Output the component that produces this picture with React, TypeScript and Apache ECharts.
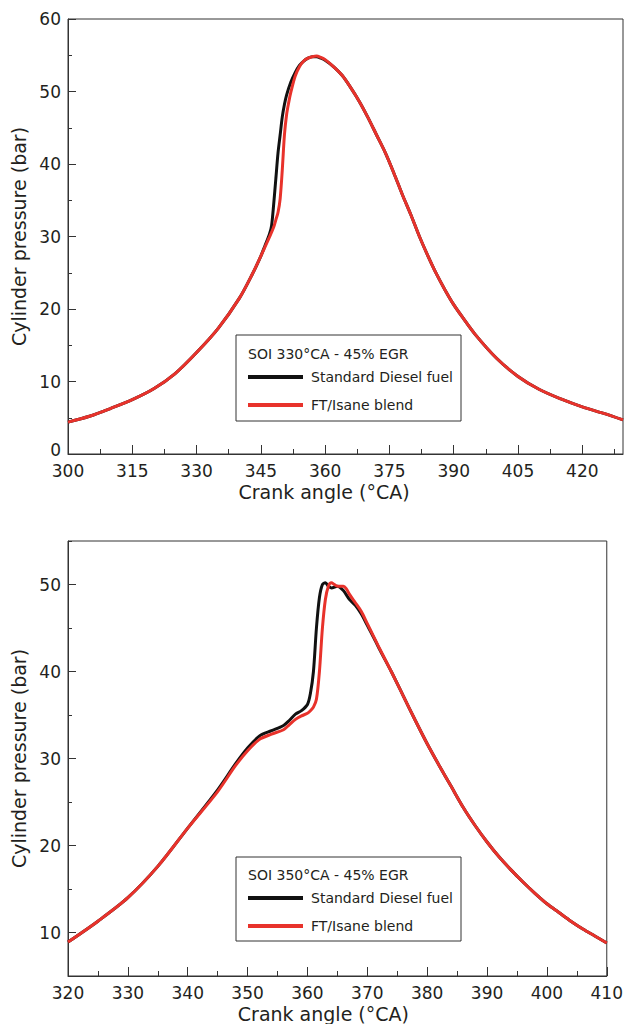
import React, { useEffect, useRef } from "react";
import * as echarts from "echarts";

// ---------- Top chart (SOI 330°CA) ----------
const topDieselAngle = [300, 305, 310, 315, 320, 325, 330, 335, 340, 343, 345, 346, 347, 347.5, 348, 348.5, 349, 349.5, 350, 350.5, 351, 352, 353, 354, 355, 356, 357, 358, 359, 360, 362, 364, 366, 368, 370, 372, 374, 376, 378, 380, 382, 384, 386, 388, 390, 392, 395, 400, 405, 410, 415, 420, 425, 429.5];
const topDieselP = [4.4, 5.2, 6.3, 7.5, 9.0, 11.1, 14.0, 17.3, 21.5, 24.8, 27.3, 28.8, 30.3, 31.5, 34.5, 38, 41.5, 44, 46.5, 48.2, 49.5, 51.3, 52.6, 53.6, 54.2, 54.6, 54.8, 54.8, 54.6, 54.3, 53.4, 52.2, 50.5, 48.6, 46.4, 44, 41.6, 38.8, 35.8, 33, 30, 27.3, 24.8, 22.6, 20.6, 18.9, 16.5, 13.2, 10.7, 8.9, 7.6, 6.5, 5.6, 4.7];

const topBlendAngle = [300, 305, 310, 315, 320, 325, 330, 335, 340, 343, 345, 346, 347, 348, 348.5, 349, 349.5, 350, 350.5, 351, 351.5, 352, 353, 354, 355, 356, 357, 358, 359, 360, 362, 364, 366, 368, 370, 372, 374, 376, 378, 380, 382, 384, 386, 388, 390, 392, 395, 400, 405, 410, 415, 420, 425, 429.5];
const topBlendP = [4.4, 5.2, 6.3, 7.5, 9.0, 11.1, 14.0, 17.3, 21.5, 24.8, 27.3, 28.6, 29.9, 31.3, 32.3, 33.3, 35.2, 39.2, 44, 46.8, 48.5, 49.9, 52.1, 53.4, 54.2, 54.6, 54.8, 54.9, 54.7, 54.4, 53.4, 52.2, 50.5, 48.6, 46.4, 44, 41.6, 38.8, 35.8, 33, 30, 27.3, 24.8, 22.6, 20.6, 18.9, 16.5, 13.2, 10.7, 8.9, 7.6, 6.5, 5.6, 4.7];

const topXMajor = [300, 315, 330, 345, 360, 375, 390, 405, 420];
const topXMinor = [307.5, 322.5, 337.5, 352.5, 367.5, 382.5, 397.5, 412.5, 427.5];
const topYMajor = [0, 10, 20, 30, 40, 50, 60];
const topYMinor = [5, 15, 25, 35, 45, 55];

// ---------- Bottom chart (SOI 350°CA) ----------
const botDieselAngle = [320, 325, 330, 335, 340, 345, 348, 350, 352, 354, 356, 357, 358, 359, 360, 360.5, 361, 361.5, 362, 362.5, 363, 363.5, 364, 365, 366, 367, 368, 369, 370, 371, 372, 374, 376, 378, 380, 382, 384, 386, 388, 390, 392, 394, 396, 398, 400, 402, 404, 406, 408, 410];
const botDieselP = [8.9, 11.3, 14.0, 17.6, 22.0, 26.4, 29.4, 31.2, 32.6, 33.2, 33.8, 34.4, 35.1, 35.5, 36.2, 37.5, 40, 45, 48.5, 50, 50.2, 49.8, 49.6, 49.8, 49.3, 48.3, 47.6, 46.6, 45.3, 44, 42.6, 40, 37.2, 34.4, 31.7, 29.2, 26.8, 24.4, 22.3, 20.4, 18.7, 17.2, 15.8, 14.5, 13.3, 12.3, 11.3, 10.4, 9.6, 8.8];

const botBlendAngle = [320, 325, 330, 335, 340, 345, 348, 350, 352, 354, 356, 357, 358, 359, 360, 360.5, 361, 361.5, 362, 362.5, 363, 363.5, 364, 364.5, 365, 366, 366.5, 367, 368, 369, 370, 371, 372, 374, 376, 378, 380, 382, 384, 386, 388, 390, 392, 394, 396, 398, 400, 402, 404, 406, 408, 410];
const botBlendP = [8.9, 11.3, 14.0, 17.6, 22.0, 26.2, 29.2, 30.9, 32.2, 32.8, 33.3, 33.9, 34.5, 34.9, 35.2, 35.5, 35.9, 36.8, 40, 45, 48.3, 49.8, 50.2, 50.0, 49.8, 49.8, 49.5, 48.9, 47.9, 46.9, 45.5, 44.1, 42.7, 40, 37.2, 34.4, 31.7, 29.2, 26.8, 24.4, 22.3, 20.4, 18.7, 17.2, 15.8, 14.5, 13.3, 12.3, 11.3, 10.4, 9.6, 8.8];

const botXMajor = [320, 330, 340, 350, 360, 370, 380, 390, 400, 410];
const botXMinor = [325, 335, 345, 355, 365, 375, 385, 395, 405];
const botYMajor = [10, 20, 30, 40, 50];
const botYMinor = [5, 15, 25, 35, 45, 55];

const seriesNames = ["Standard Diesel fuel", "FT/Isane blend"];
const legendTitles = ["SOI 330°CA - 45% EGR", "SOI 350°CA - 45% EGR"];

const FONT = "DejaVu Sans";
const TXT = "#231f20";
const AX = "#333333";
const BLACK = "#111111";
const RED = "#e8322b";

const zip = (a: number[], b: number[]) => a.map((v, i) => [v, b[i]]);

function mainX(grid: number, min: number, max: number, major: number[], padRight: number) {
  return {
    type: "value", gridIndex: grid, min, max, position: "bottom",
    axisLine: { show: true, lineStyle: { color: AX, width: 1 } },
    axisTick: { show: true, inside: true, length: 9, customValues: major, lineStyle: { color: AX } },
    axisLabel: { show: true, customValues: major, fontSize: 17, lineHeight: 17, color: TXT, fontFamily: FONT, margin: 8 },
    splitLine: { show: false },
    name: "Crank angle (°CA)", nameLocation: "middle", nameGap: 28,
    nameTextStyle: { fontSize: 19, color: TXT, fontFamily: FONT, padding: [0, padRight, 0, 0] },
  };
}
function minorX(grid: number, min: number, max: number, minor: number[]) {
  return {
    type: "value", gridIndex: grid, min, max, position: "bottom",
    axisLine: { show: false },
    axisTick: { show: true, inside: true, length: 5, customValues: minor, lineStyle: { color: AX } },
    axisLabel: { show: false },
    splitLine: { show: false },
  };
}
function mainY(grid: number, min: number, max: number, major: number[]) {
  return {
    type: "value", gridIndex: grid, min, max, position: "left",
    axisLine: { show: true, lineStyle: { color: AX, width: 1 } },
    axisTick: { show: true, inside: true, length: 8, customValues: major, lineStyle: { color: AX } },
    axisLabel: {
      show: true, customValues: major, fontSize: 17, color: TXT, fontFamily: FONT, margin: 7,
      formatter: (v: number) => (v === min ? `{low|${v}}` : `${v}`),
      rich: { low: { fontSize: 17, lineHeight: 13, color: TXT, fontFamily: FONT, padding: [0, 0, 9, 0] } },
    },
    splitLine: { show: false },
    name: "Cylinder pressure (bar)", nameLocation: "middle", nameGap: 37, nameRotate: 90,
    nameTextStyle: { fontSize: 19, color: TXT, fontFamily: FONT },
  };
}
function minorY(grid: number, min: number, max: number, minor: number[]) {
  return {
    type: "value", gridIndex: grid, min, max, position: "left",
    axisLine: { show: false },
    axisTick: { show: true, inside: true, length: 4, customValues: minor, lineStyle: { color: AX } },
    axisLabel: { show: false },
    splitLine: { show: false },
  };
}
function line(name: string, color: string, xi: number, yi: number, data: number[][], z: number) {
  return {
    type: "line", name, xAxisIndex: xi, yAxisIndex: yi, data,
    showSymbol: false, symbol: "none", smooth: 0.3, z,
    lineStyle: { color, width: 3 }, itemStyle: { color },
  };
}
function legend(top: number) {
  return {
    left: 248, top, orient: "vertical", icon: "rect", itemWidth: 55, itemHeight: 4, itemGap: 12, padding: 0,
    data: seriesNames, selectedMode: false,
    textStyle: { fontSize: 14, lineHeight: 16, color: TXT, fontFamily: FONT, padding: [0, 0, 0, 3] },
  };
}

export default function App() {
  const ref = useRef<HTMLDivElement>(null);
  useEffect(() => {
    if (!ref.current) return;
    const chart = echarts.init(ref.current, null, { renderer: "svg" });
    chart.setOption({
      animation: false,
      backgroundColor: "#ffffff",
      textStyle: { fontFamily: FONT },
      grid: [
        { left: 68, top: 19, width: 555, height: 435, show: true, borderColor: AX, borderWidth: 1, backgroundColor: "transparent" },
        { left: 68, top: 541, width: 540, height: 435, show: true, borderColor: AX, borderWidth: 1, backgroundColor: "transparent" },
      ],
      xAxis: [
        mainX(0, 300, 429.5, topXMajor, 43),
        minorX(0, 300, 429.5, topXMinor),
        mainX(1, 320, 410, botXMajor, 28),
        minorX(1, 320, 410, botXMinor),
      ],
      yAxis: [
        mainY(0, 0, 60, topYMajor),
        minorY(0, 0, 60, topYMinor),
        mainY(1, 5, 55, botYMajor),
        minorY(1, 5, 55, botYMinor),
      ],
      legend: [legend(369), legend(890)],
      graphic: [
        { type: "rect", shape: { x: 236, y: 335, width: 225, height: 86 }, style: { fill: "#ffffff", stroke: AX, lineWidth: 1 }, z: 1 },
        { type: "text", x: 248, y: 354, style: { text: legendTitles[0], font: `14px '${FONT}'`, fill: TXT, verticalAlign: "middle" }, z: 2 },
        { type: "rect", shape: { x: 236, y: 857, width: 225, height: 84 }, style: { fill: "#ffffff", stroke: AX, lineWidth: 1 }, z: 1 },
        { type: "text", x: 248, y: 875, style: { text: legendTitles[1], font: `14px '${FONT}'`, fill: TXT, verticalAlign: "middle" }, z: 2 },
      ],
      series: [
        line(seriesNames[0], BLACK, 0, 0, zip(topDieselAngle, topDieselP), 2),
        line(seriesNames[1], RED, 0, 0, zip(topBlendAngle, topBlendP), 3),
        line(seriesNames[0], BLACK, 2, 2, zip(botDieselAngle, botDieselP), 2),
        line(seriesNames[1], RED, 2, 2, zip(botBlendAngle, botBlendP), 3),
      ],
    });
    return () => chart.dispose();
  }, []);
  return <div ref={ref} style={{ position: "absolute", left: 0, top: 0, width: 626, height: 1024 }} />;
}
